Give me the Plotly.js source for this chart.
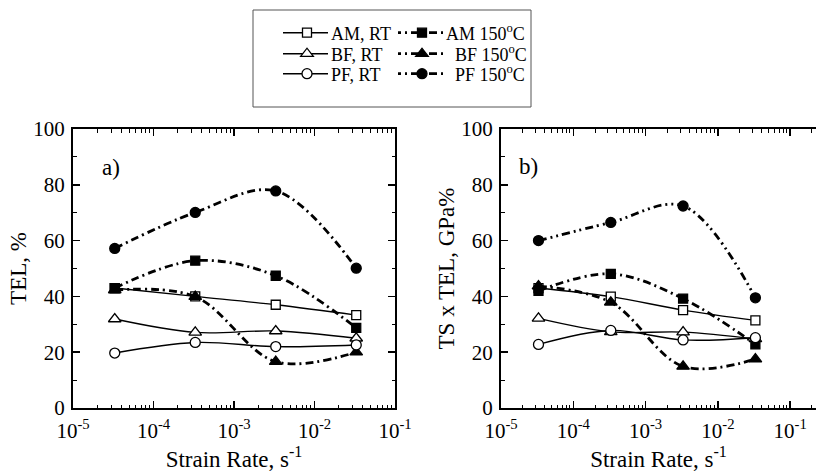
<!DOCTYPE html>
<html>
<head>
<meta charset="utf-8">
<script src="https://cdn.plot.ly/plotly-3.0.1.min.js"></script>
<style>html,body{margin:0;padding:0;background:#fff;}#chart{width:816px;height:473px;}</style>
</head>
<body>
<div id="chart"></div>
<script>
// ---- data ----
const strainRate = [3.3e-5, 3.3e-4, 3.3e-3, 3.3e-2];

// panel a) TEL, %
const telAM_RT  = [43.0, 40.0, 37.0, 33.3];
const telAM_150 = [43.0, 52.8, 47.4, 28.7];
const telBF_RT  = [31.9, 27.1, 27.6, 25.0];
const telBF_150 = [42.3, 39.9, 16.6, 20.0];
const telPF_RT  = [19.7, 23.5, 22.0, 22.6];
const telPF_150 = [57.2, 70.1, 77.8, 50.1];

// panel b) TS x TEL, GPa%
const tstAM_RT  = [43.0, 39.9, 35.1, 31.4];
const tstAM_150 = [42.0, 48.1, 39.2, 22.8];
const tstBF_RT  = [32.1, 27.3, 27.2, 24.8];
const tstBF_150 = [43.7, 37.9, 14.9, 17.5];
const tstPF_RT  = [22.8, 27.8, 24.4, 25.2];
const tstPF_150 = [60.0, 66.5, 72.4, 39.5];

const seriesNames = ['AM, RT', 'AM 150<sup>o</sup>C', 'BF, RT', '\u00a0\u00a0BF 150<sup>o</sup>C', 'PF, RT', '\u00a0\u00a0PF 150<sup>o</sup>C'];
const xTickVals = [1e-5, 1e-4, 1e-3, 1e-2, 1e-1];
const xTickText = ['10<sup>-5</sup>', '10<sup>-4</sup>', '10<sup>-3</sup>', '10<sup>-2</sup>', '10<sup>-1</sup>'];
const yTickVals = [0, 20, 40, 60, 80, 100];

// ---- styling ----
const FONT = 'Liberation Serif';
const DASHDOT = '8px,4px,2px,4px';
const DASHDOTDOT = '8px,4px,2px,4px,2px,4px';
const styles = [
  {symbol: 'square', fill: '#fff', dash: 'solid', width: 1.4, size: 9},
  {symbol: 'square', fill: '#000', dash: DASHDOT, width: 2.8, size: 9},
  {symbol: 'triangle-up', fill: '#fff', dash: 'solid', width: 1.4, size: 11},
  {symbol: 'triangle-up', fill: '#000', dash: DASHDOT, width: 2.8, size: 11},
  {symbol: 'circle', fill: '#fff', dash: 'solid', width: 1.4, size: 10},
  {symbol: 'circle', fill: '#000', dash: DASHDOT, width: 2.8, size: 10}
];
const legendIds = ['legend', 'legend2', 'legend3', 'legend4', 'legend5', 'legend6'];

const minorVals = [];
for (let e = -5; e <= -1; e++) for (let m = 2; m <= 9; m++) minorVals.push(m * Math.pow(10, e));

function mk(y, i, xa, ya, showleg, dashOverride) {
  const s = styles[i];
  return {
    x: strainRate, y: y, xaxis: xa, yaxis: ya, type: 'scatter', mode: 'lines+markers',
    name: seriesNames[i], legend: legendIds[i], showlegend: showleg,
    line: {color: '#000', width: s.width, dash: dashOverride || s.dash, shape: 'spline', smoothing: 1},
    marker: {symbol: s.symbol, size: s.size, color: s.fill, line: {color: '#000', width: 1.3}}
  };
}

const dataA = [telAM_RT, telAM_150, telBF_RT, telBF_150, telPF_RT, telPF_150];
const dataB = [tstAM_RT, tstAM_150, tstBF_RT, tstBF_150, tstPF_RT, tstPF_150];
const traces = [];
dataA.forEach((y, i) => traces.push(mk(y, i, 'x', 'y', true)));
dataB.forEach((y, i) => traces.push(mk(y, i, 'x2', 'y2', false, i === 5 ? DASHDOTDOT : null)));

function xAxis(domain, range, anchor) {
  return {
    type: 'log', domain: domain, range: range, anchor: anchor,
    tickmode: 'array', tickvals: xTickVals, ticktext: xTickText,
    ticks: 'inside', ticklen: 7, tickwidth: 1.5, tickcolor: '#000',
    minor: {tickmode: 'array', tickvals: minorVals, ticks: 'inside', ticklen: 3.5, tickwidth: 1, tickcolor: '#000', showgrid: false},
    showline: true, linewidth: 2, linecolor: '#000', mirror: 'ticks',
    showgrid: false, zeroline: false, ticklabelstandoff: 3,
    tickfont: {family: FONT, size: 21, color: '#000'},
    title: {text: 'Strain Rate, s<sup>-1</sup>', font: {family: FONT, size: 23, color: '#000'}, standoff: 2}
  };
}
function yAxis(anchor, title, mirror) {
  return {
    range: [0, 100], anchor: anchor, tickmode: 'array', tickvals: yTickVals,
    ticks: 'inside', ticklen: 7, tickwidth: 1.5, tickcolor: '#000',
    minor: {dtick: 10, ticks: 'inside', ticklen: 3.5, tickwidth: 1, tickcolor: '#000', showgrid: false},
    showline: true, linewidth: 2, linecolor: '#000', mirror: mirror,
    showgrid: false, zeroline: false, ticklabelstandoff: 2,
    tickfont: {family: FONT, size: 21, color: '#000'},
    title: {text: title, font: {family: FONT, size: 23, color: '#000'}, standoff: 0}
  };
}

const H = 279, B = 408; // plot area height / bottom in px
function py(p) { return (B - p) / H; }

function leg(xpx, ypx) {
  return {x: xpx / 816, xanchor: 'left', y: py(ypx), yanchor: 'middle', bgcolor: 'rgba(0,0,0,0)',
          font: {family: FONT, size: 18, color: '#000'}, itemwidth: 38, borderwidth: 0};
}

const layout = {
  width: 816, height: 473,
  margin: {l: 0, r: 0, t: 129, b: 65},
  paper_bgcolor: '#fff', plot_bgcolor: '#fff',
  font: {family: FONT, color: '#000'},
  xaxis: xAxis([73 / 816, 395 / 816], [-5, -1], 'y'),
  yaxis: yAxis('x', 'TEL, %', 'ticks'),
  xaxis2: xAxis([501 / 816, 1], [-5, -5 + (816 - 501) / 72.3], 'y2'),
  yaxis2: yAxis('x2', 'TS x TEL, GPa%', false),
  legend: leg(283, 33), legend2: leg(398, 33),
  legend3: leg(283, 54), legend4: leg(398, 54),
  legend5: leg(283, 74), legend6: leg(398, 74),
  shapes: [{type: 'rect', xref: 'paper', yref: 'paper', x0: 253 / 816, x1: 531 / 816, y0: py(107), y1: py(10),
            line: {color: '#555', width: 1}}],
  annotations: [
    {text: 'a)', xref: 'paper', yref: 'paper', x: 100 / 816, y: py(153), showarrow: false,
     font: {family: FONT, size: 23, color: '#000'}},
    {text: 'b)', xref: 'paper', yref: 'paper', x: 528 / 816, y: py(152), showarrow: false,
     font: {family: FONT, size: 23, color: '#000'}}
  ]
};

Plotly.newPlot('chart', traces, layout, {displayModeBar: false, staticPlot: true}).then(function (gd) {
  // lengthen legend line samples (symbol stays centred)
  gd.querySelectorAll('.legendlines path').forEach(function (p) {
    p.setAttribute('d', 'M-5,0h50');
  });
});
</script>
</body>
</html>
